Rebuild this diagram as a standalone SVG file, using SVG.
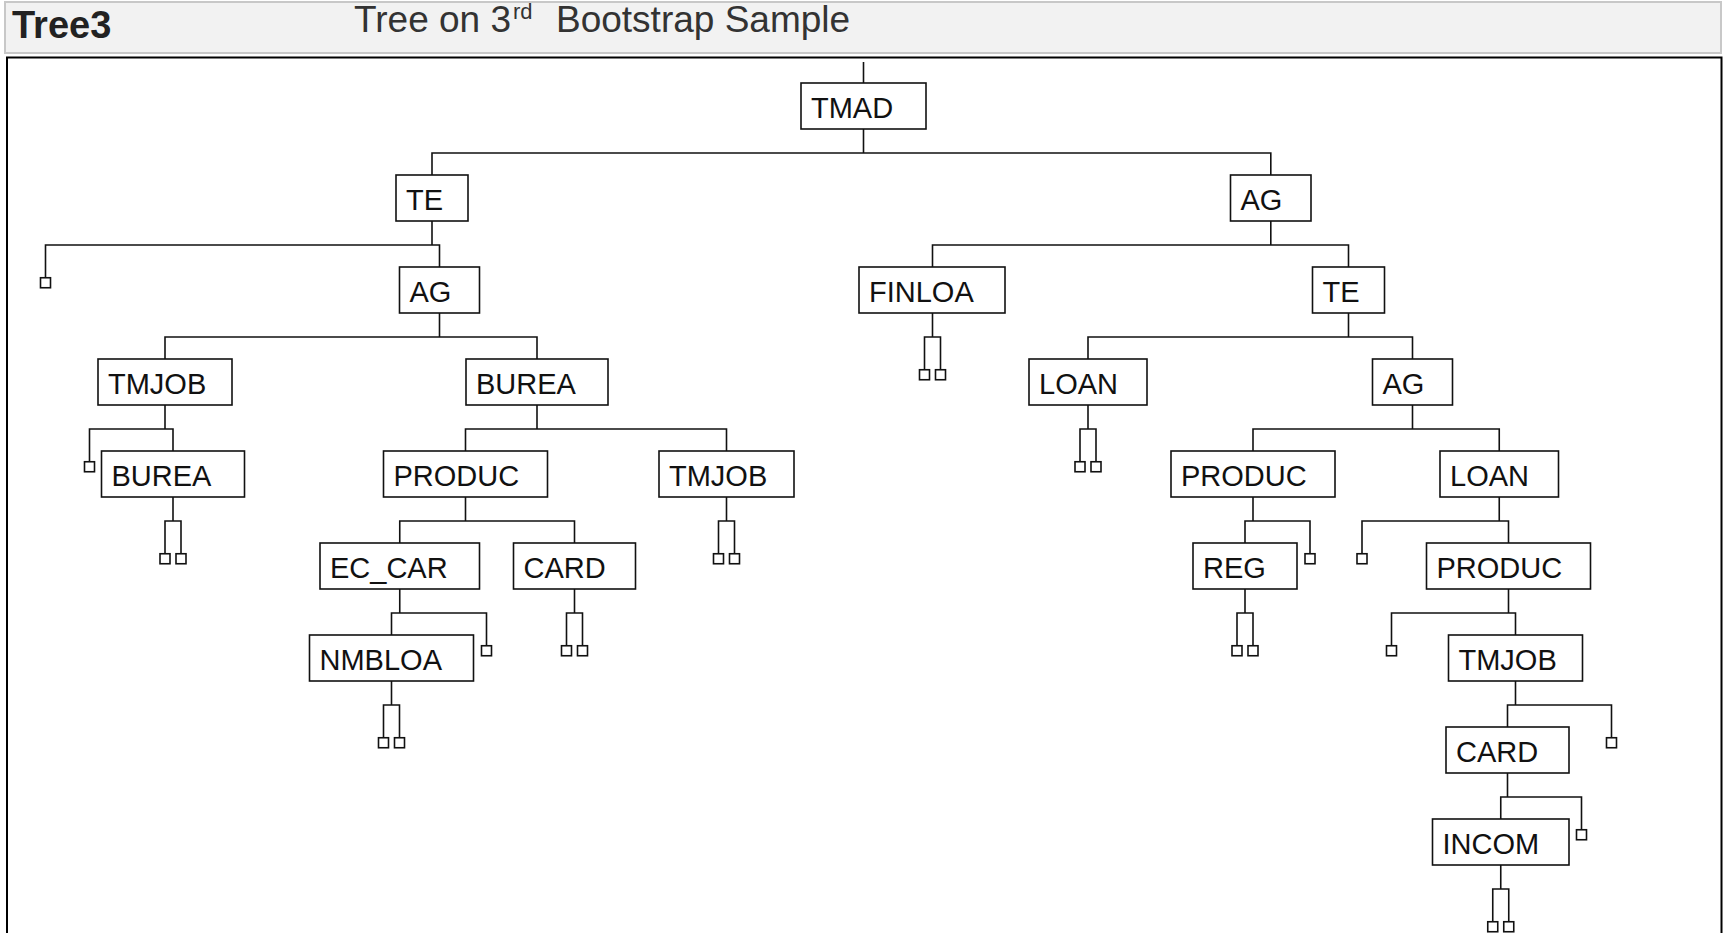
<svg xmlns="http://www.w3.org/2000/svg" width="1723" height="933" viewBox="0 0 1723 933">
<style>
.box{fill:#fff;stroke:#111;stroke-width:1.6}
.lbl{font-family:"Liberation Sans",Arial,sans-serif;font-size:29px;fill:#111}
.conn path{fill:none;stroke:#111;stroke-width:1.6}
.leaf{fill:#fff;stroke:#111;stroke-width:1.6}
.hdr{fill:#f2f2f2;stroke:#c8c8c8;stroke-width:2}
.frame{fill:#fff;stroke:#000;stroke-width:2}
.t1{font-family:"Liberation Sans",Arial,sans-serif;font-weight:bold;font-size:38px;fill:#222}
.t2{font-family:"Liberation Sans",Arial,sans-serif;fill:#333}
</style>
<rect width="1723" height="933" fill="#fff"/>
<g id="header">
<rect class="hdr" x="5" y="2" width="1716" height="51"/>
<text class="t1" x="12" y="38">Tree3</text>
<text class="t2" x="354" y="32" font-size="37">Tree on 3</text>
<text class="t2" x="513" y="19" font-size="22">rd</text>
<text class="t2" x="556" y="32" font-size="37">Bootstrap Sample</text>
</g>
<rect id="frame" class="frame" x="7" y="57.5" width="1714.5" height="900"/>
<g id="connectors" class="conn">
<path d="M863.5 62 V83"/>
<path d="M863.5 129 V153 M432 175 V153 H1270.8 V175"/>
<path d="M432 221 V245 M45.5 277.75 V245 H439.5 V267"/>
<path d="M1270.8 221 V245 M932.5 267 V245 H1348.5 V267"/>
<path d="M439.5 313 V337 M165 359 V337 H537 V359"/>
<path d="M932.5 313 V337 M924.5 369.75 V337 H940.5 V369.75"/>
<path d="M1348.5 313 V337 M1088 359 V337 H1412.5 V359"/>
<path d="M165 405 V429 M89.5 461.75 V429 H173 V451"/>
<path d="M537 405 V429 M465.5 451 V429 H726.5 V451"/>
<path d="M1088 405 V429 M1080 461.75 V429 H1096 V461.75"/>
<path d="M1412.5 405 V429 M1253 451 V429 H1499.25 V451"/>
<path d="M173 497 V521 M165 553.75 V521 H181 V553.75"/>
<path d="M465.5 497 V521 M399.75 543 V521 H574.5 V543"/>
<path d="M726.5 497 V521 M718.5 553.75 V521 H734.5 V553.75"/>
<path d="M1253 497 V521 M1245 543 V521 H1310 V553.75"/>
<path d="M1499.25 497 V521 M1362 553.75 V521 H1508.5 V543"/>
<path d="M399.75 589 V613 M391.5 635 V613 H486.5 V645.75"/>
<path d="M574.5 589 V613 M566.5 645.75 V613 H582.5 V645.75"/>
<path d="M1245 589 V613 M1237 645.75 V613 H1253 V645.75"/>
<path d="M1508.5 589 V613 M1391.5 645.75 V613 H1515.5 V635"/>
<path d="M391.5 681 V705 M383.5 737.75 V705 H399.5 V737.75"/>
<path d="M1515.5 681 V705 M1507.5 727 V705 H1611.5 V737.75"/>
<path d="M1507.5 773 V797 M1500.75 819 V797 H1581.5 V829.75"/>
<path d="M1500.75 865 V889 M1492.75 921.75 V889 H1508.75 V921.75"/>
</g>
<g id="leaves">
<rect class="leaf" x="40.5" y="277.75" width="10" height="10"/>
<rect class="leaf" x="919.5" y="369.75" width="10" height="10"/>
<rect class="leaf" x="935.5" y="369.75" width="10" height="10"/>
<rect class="leaf" x="84.5" y="461.75" width="10" height="10"/>
<rect class="leaf" x="1075" y="461.75" width="10" height="10"/>
<rect class="leaf" x="1091" y="461.75" width="10" height="10"/>
<rect class="leaf" x="160" y="553.75" width="10" height="10"/>
<rect class="leaf" x="176" y="553.75" width="10" height="10"/>
<rect class="leaf" x="713.5" y="553.75" width="10" height="10"/>
<rect class="leaf" x="729.5" y="553.75" width="10" height="10"/>
<rect class="leaf" x="1305" y="553.75" width="10" height="10"/>
<rect class="leaf" x="1357" y="553.75" width="10" height="10"/>
<rect class="leaf" x="481.5" y="645.75" width="10" height="10"/>
<rect class="leaf" x="561.5" y="645.75" width="10" height="10"/>
<rect class="leaf" x="577.5" y="645.75" width="10" height="10"/>
<rect class="leaf" x="1232" y="645.75" width="10" height="10"/>
<rect class="leaf" x="1248" y="645.75" width="10" height="10"/>
<rect class="leaf" x="1386.5" y="645.75" width="10" height="10"/>
<rect class="leaf" x="378.5" y="737.75" width="10" height="10"/>
<rect class="leaf" x="394.5" y="737.75" width="10" height="10"/>
<rect class="leaf" x="1606.5" y="737.75" width="10" height="10"/>
<rect class="leaf" x="1576.5" y="829.75" width="10" height="10"/>
<rect class="leaf" x="1487.75" y="921.75" width="10" height="10"/>
<rect class="leaf" x="1503.75" y="921.75" width="10" height="10"/>
</g>
<g id="n0"><rect class="box" x="801" y="83" width="125" height="46"/><text class="lbl" x="811" y="117.5">TMAD</text></g>
<g id="n1"><rect class="box" x="396" y="175" width="72" height="46"/><text class="lbl" x="406" y="209.5">TE</text></g>
<g id="n2"><rect class="box" x="1230.5" y="175" width="80.5" height="46"/><text class="lbl" x="1240.5" y="209.5">AG</text></g>
<g id="n3"><rect class="box" x="399.5" y="267" width="80" height="46"/><text class="lbl" x="409.5" y="301.5">AG</text></g>
<g id="n4"><rect class="box" x="859" y="267" width="146" height="46"/><text class="lbl" x="869" y="301.5">FINLOA</text></g>
<g id="n5"><rect class="box" x="1312.5" y="267" width="72" height="46"/><text class="lbl" x="1322.5" y="301.5">TE</text></g>
<g id="n6"><rect class="box" x="98" y="359" width="134" height="46"/><text class="lbl" x="108" y="393.5">TMJOB</text></g>
<g id="n7"><rect class="box" x="466" y="359" width="142" height="46"/><text class="lbl" x="476" y="393.5">BUREA</text></g>
<g id="n8"><rect class="box" x="1029" y="359" width="118" height="46"/><text class="lbl" x="1039" y="393.5">LOAN</text></g>
<g id="n9"><rect class="box" x="1372.5" y="359" width="80" height="46"/><text class="lbl" x="1382.5" y="393.5">AG</text></g>
<g id="n10"><rect class="box" x="101.5" y="451" width="143" height="46"/><text class="lbl" x="111.5" y="485.5">BUREA</text></g>
<g id="n11"><rect class="box" x="383.5" y="451" width="164" height="46"/><text class="lbl" x="393.5" y="485.5">PRODUC</text></g>
<g id="n12"><rect class="box" x="659" y="451" width="135" height="46"/><text class="lbl" x="669" y="485.5">TMJOB</text></g>
<g id="n13"><rect class="box" x="1171" y="451" width="164" height="46"/><text class="lbl" x="1181" y="485.5">PRODUC</text></g>
<g id="n14"><rect class="box" x="1440" y="451" width="118.5" height="46"/><text class="lbl" x="1450" y="485.5">LOAN</text></g>
<g id="n15"><rect class="box" x="320" y="543" width="159.5" height="46"/><text class="lbl" x="330" y="577.5">EC_CAR</text></g>
<g id="n16"><rect class="box" x="513.5" y="543" width="122" height="46"/><text class="lbl" x="523.5" y="577.5">CARD</text></g>
<g id="n17"><rect class="box" x="1193" y="543" width="104" height="46"/><text class="lbl" x="1203" y="577.5">REG</text></g>
<g id="n18"><rect class="box" x="1426.5" y="543" width="164" height="46"/><text class="lbl" x="1436.5" y="577.5">PRODUC</text></g>
<g id="n19"><rect class="box" x="309.5" y="635" width="164" height="46"/><text class="lbl" x="319.5" y="669.5">NMBLOA</text></g>
<g id="n20"><rect class="box" x="1448.5" y="635" width="134" height="46"/><text class="lbl" x="1458.5" y="669.5">TMJOB</text></g>
<g id="n21"><rect class="box" x="1446" y="727" width="123" height="46"/><text class="lbl" x="1456" y="761.5">CARD</text></g>
<g id="n22"><rect class="box" x="1432.5" y="819" width="136.5" height="46"/><text class="lbl" x="1442.5" y="853.5">INCOM</text></g>
</svg>
